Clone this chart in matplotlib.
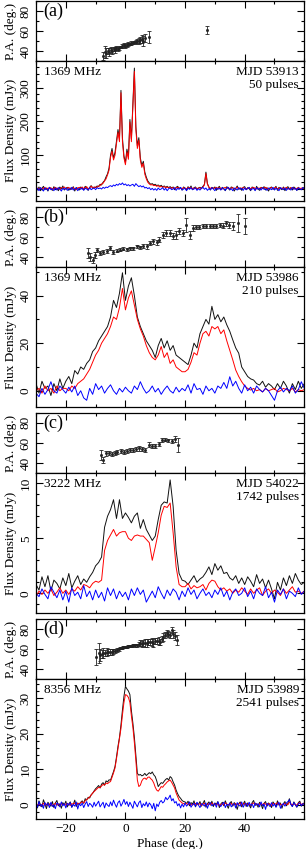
"""Polarisation profiles at four frequencies: P.A. swing above, I/L/V below."""

import numpy as np
import matplotlib

matplotlib.use("Agg")
import matplotlib.pyplot as plt
from matplotlib.ticker import MultipleLocator

plt.rcParams["font.family"] = ["Liberation Serif", "DejaVu Serif"]

# ---------------------------------------------------------------- data
# (a) 1369 MHz, MJD 53913, 0.5 deg bins from -30 to 60
phase_a = np.arange(-30.0, 60.25, 0.5)
total_a = [
    4, -3, 6, -5, 2, 8, -2, 3, -6, 5,
    1, -4, 7, -2, 3, -5, 6, 0, 9, -3,
    2, 5, -4, 3, -1, 7, -6, 4, 2, -3,
    6, 1, -2, 8, 3, -4, 5, 10, 2, 6,
    4, 9, 7, 14, 12, 20, 25, 36, 45, 62,
    100, 120, 92, 108, 142, 176, 150, 292, 150, 98,
    78, 118, 96, 206, 148, 252, 358, 185, 128, 152,
    92, 70, 82, 50, 35, 24, 18, 14, 16, 12,
    14, 10, 12, 8, 11, 6, 9, 5, 8, 4,
    7, 3, 6, -2, 5, 8, 2, 4, -3, 6,
    3, -4, 7, 1, 9, -2, 4, 6, -1, 3,
    5, 2, 8, 14, 50, 16, 6, -3, 5, 2,
    6, -4, 3, 8, -2, 5, 1, -5, 7, 2,
    -3, 6, 4, -6, 2, 9, -1, 3, -4, 5,
    7, -2, 4, 1, -5, 6, 3, -3, 8, 0,
    -4, 5, 2, 7, -3, 4, -6, 3, 6, -1,
    2, 8, -4, 5, 1, -2, 6, -5, 3, 7,
    -1, 4, -3, 6, 2, -4, 5, 1, -2, 4,
    3,
]
linear_a = [
    1, 3, -2, 4, 0, 2, 5, -1, 3, 1,
    4, -2, 2, 5, 0, 3, -1, 4, 2, 6,
    0, 3, 5, -1, 2, 4, 1, -2, 3, 5,
    2, 6, 1, 4, 7, 0, 3, 8, 5, 4,
    6, 5, 9, 10, 15, 17, 24, 30, 42, 56,
    94, 112, 86, 100, 135, 168, 140, 285, 140, 92,
    72, 110, 88, 198, 140, 245, 348, 175, 120, 145,
    85, 64, 76, 44, 30, 20, 15, 12, 13, 10,
    11, 8, 10, 6, 8, 5, 7, 4, 6, 3,
    5, 2, 4, 1, 3, 5, 2, 3, 0, 4,
    2, 1, 4, 3, 5, 0, 2, 4, 1, 3,
    3, 1, 6, 12, 46, 14, 5, 2, 4, 1,
    3, 5, 1, 4, 2, 0, 3, 5, 2, 4,
    1, 3, 4, 0, 2, 5, 1, 3, 2, 4,
    3, 0, 2, 4, 1, 3, 5, 2, 0, 3,
    2, 4, 1, 3, 5, 2, 0, 3, 4, 1,
    3, 5, 0, 2, 4, 1, 3, 2, 5, 0,
    2, 4, 1, 3, 0, 2, 4, 1, 3, 2,
    1,
]
circular_a = [
    -3, 2, -5, 4, -1, -6, 3, 0, -4, 5,
    -2, 1, -5, 3, -3, 4, 0, -6, 2, -1,
    3, -4, 1, -2, 5, -3, 0, 4, -5, 2,
    -1, 3, -4, 2, 0, -3, 4, -2, 1, 3,
    -2, 4, 1, 3, 0, 5, 2, 6, 4, 8,
    10, 7, 12, 9, 14, 11, 16, 13, 18, 12,
    15, 10, 13, 9, 12, 14, 8, 16, 11, 7,
    10, 6, 9, 3, 5, 1, 4, -2, 2, -3,
    1, -4, 3, -2, 0, 4, -3, 2, -5, 1,
    3, -2, 0, 4, -4, 2, -1, 5, -3, 0,
    2, -5, 3, -1, 4, -2, 0, 3, -4, 1,
    -3, 2, 5, -1, 3, -4, 1, -2, 4, 0,
    -5, 3, -1, 2, -3, 4, 0, -4, 2, 5,
    -2, 1, -5, 3, 0, -3, 4, -1, 2, -4,
    3, -2, 1, 5, -3, 0, 2, -5, 4, -1,
    2, -3, 4, -1, 0, -4, 3, 1, -2, 5,
    -3, 2, 0, -5, 4, 1, -2, 3, -4, 2,
    0, -3, 5, -1, 2, -4, 3, 0, -2, 4,
    1,
]
pa_phase_a = [-7.5, -7.0, -6.5, -6.0, -5.5, -5.0, -4.5, -4.0, -3.5, -3.0,
              -2.5, -2.0, -1.5, -1.0, -0.5, 0.0, 0.5, 1.0, 1.5, 2.0,
              2.5, 3.0, 3.5, 4.0, 4.5, 5.0, 5.5, 6.0, 6.5, 8.0, 27.5]
pa_a = [35, 39, 38, 40, 39, 41, 40, 42, 41, 43,
        42, 43, 44, 45, 46, 45, 46, 47, 47, 48,
        48, 49, 49, 50, 50, 51, 52, 50, 53, 54, 61]
pa_err_a = [4, 6, 5, 3, 4, 3, 3, 2, 3, 2,
            2, 2, 1, 2, 2, 2, 2, 2, 1, 2,
            1, 1, 2, 2, 3, 3, 4, 5, 4, 6, 4]

# (b) 1369 MHz, MJD 53986, 1 deg bins
phase_b = np.arange(-30.0, 60.5, 1.0)
total_b = [
    3, -1, 4, 1, 2, -2, 3, 0, 5, 1,
    4, 6, 3, 8.5, 7, 10, 9, 11.5, 13, 16.5,
    18, 21, 23, 25, 27, 31, 38, 35, 41, 49.6,
    38, 44, 47.5, 40, 31, 27, 24, 21, 19, 17,
    14, 19, 22, 18, 21, 17, 19, 15, 14, 13,
    12, 11, 15, 20, 18, 24, 27, 30, 28, 35.5,
    30, 32, 29, 31, 27.7, 25, 21.4, 18, 15.8, 10,
    8, 6, 5, 4.5, 3, 2.4, 4, 1.5, 3, 2,
    0.5, 3, 1, 4, 2, -1, 3, 0.5, 4, 1,
    3,
]
linear_b = [
    0, 1, -1, 2, 0, 1, -1, 2, 0, 1,
    1, 0, 2, 1, 3, 4, 5, 7, 9, 12,
    15, 17, 20, 22, 24, 27, 31, 30, 35, 43,
    34, 39, 42, 36, 30, 26, 23, 19, 16, 14,
    13, 15, 18.6, 14, 16, 11.5, 13, 10, 9, 8,
    8, 9, 12, 16, 15, 20, 24, 25, 23, 27,
    26, 27, 24, 25.6, 21, 17, 13, 8.7, 6, 3.8,
    2, 1, 0.3, 1, 0, 0.5, -0.5, 1, 0, 0.5,
    1, -0.5, 0, 1, 0.5, 0, 1, -0.5, 0.5, 0,
    0.5,
]
circular_b = [
    -1, -2.5, 1, -1.5, 0.5, 3.8, 0, -1, 2, 0.5,
    -1, 1.5, -0.5, 2, -2, 0, -3, -4, 1, -1.5,
    3, 0.5, 2, -1, 1, 2.5, 0, -1.5, 1, -0.5,
    1.5, 0, -1, 2, 0.5, 3.8, 1, -1, 0, 2,
    -0.5, 1, -1.5, 0.5, 2, 0, -1, 1.5, -0.5, 1,
    0, 2.5, -1, 3, 0.5, 1, -1.5, 2, 0, 1,
    -1, 2, 1, 3.5, 1, 5.9, 2, 4, 1, -1,
    2.5, 0, 1.5, -1, 2, 0.5, -0.5, 1, 0, -2,
    -4, 0, 1.5, -0.5, 1, 0, 2, -1, 0.5, 3.8,
    1,
]
pa_phase_b = [-12.7, -11.8, -11.0, -10.2, -9.4, -8.5, -7.4, -6.3, -5.2, -4.1,
              -2.9, -1.8, -0.7, 0.4, 1.6, 2.7, 3.8, 4.9, 6.0, 7.2,
              8.3, 9.4, 10.5, 11.4, 12.5, 13.7, 14.8, 15.9, 17.0, 18.1,
              19.3, 20.4, 21.5, 22.6, 23.7, 24.8, 26.0, 27.1, 28.2, 29.3,
              30.4, 31.6, 32.7, 33.8, 34.9, 36.0, 37.9, 40.1]
pa_b = [44, 40.7, 37.3, 42.3, 47.3, 44, 45.7, 46.7, 49, 45.7,
        46.7, 47.3, 48.3, 48, 49, 49, 50.7, 50, 51.3, 50.7,
        54, 55.7, 54.7, 57.3, 62.3, 64, 64, 60.7, 62.3, 65.7,
        64, 72.3, 62.3, 69, 70, 70, 70.7, 70.7, 71.3, 71.3,
        71.3, 72.3, 71.3, 74, 72.3, 70.7, 74, 70.7]
pa_err_b = [5, 4, 3, 3, 2, 2, 2, 2, 2, 2,
            1.5, 1.5, 1.5, 1.5, 1.5, 1.5, 1.5, 1.5, 2, 2,
            2, 2.5, 2.5, 2.5, 3, 3, 3, 3, 4, 3,
            3, 7, 4, 3, 2, 2, 2, 2, 2, 2,
            2, 2, 2.5, 2.5, 3, 4, 9, 8]

# (c) 3222 MHz, MJD 54022, 1 deg bins
phase_c = np.arange(-30.0, 60.5, 1.0)
total_c = [
    0.8, 0.3, 1.5, 0.6, 1.6, 0.2, 1.2, 0.9, 0.4, 1.4,
    0.7, 1.8, 0.5, 1.1, 1.6, 0.8, 1.3, 1.0, 1.5, 1.9,
    2.5, 2.8, 3.3, 6.0, 7.0, 7.6, 8.5, 6.8, 8.5, 6.8,
    7.3, 6.9, 6.4, 7.0, 7.3, 5.9, 6.7, 5.8, 5.3, 4.8,
    5.2, 6.7, 8.0, 8.3, 8.2, 10.3, 7.9, 3.9, 1.8, 1.2,
    1.1, 0.8, 1.2, 1.6, 1.0, 1.3, 1.5, 1.9, 2.4, 1.7,
    2.7, 2.1, 2.5, 1.8, 1.9, 1.4, 1.2, 1.6, 0.9, 1.4,
    0.8, 1.5, 1.1, 0.6, 1.7, 0.9, 1.3, 0.5, 1.2, 0.4,
    -0.5, 1.0, 0.3, 1.4, 0.7, 1.6, 0.9, 1.8, 1.2, 0.8,
    1.0,
]
linear_c = [
    -0.3, 0.2, -0.1, 0.3, 0.0, 0.4, -0.2, 0.1, 0.5, 0.0,
    0.3, -0.1, 0.4, 0.2, 0.6, 0.3, 0.8, 0.7, 0.5, 0.9,
    1.1, 1.0, 1.2, 3.9, 4.8, 5.3, 5.8, 5.2, 5.5, 5.6,
    5.6, 5.0, 4.8, 5.2, 5.3, 5.2, 5.2, 4.9, 4.6, 3.0,
    4.2, 5.5, 7.1, 7.9, 7.8, 8.2, 5.5, 2.4, 0.8, 0.6,
    0.6, 0.9, 0.4, 0.7, 0.5, 0.6, 0.8, 0.3, 0.9, 1.2,
    1.1, 0.6, 0.3, 0.5, 0.2, 0.4, 0.0, 0.3, 0.1, 0.5,
    0.2, -0.1, 0.4, 0.0, 0.3, 0.5, -0.2, 0.2, 0.4, 0.0,
    0.3, 0.1, -0.2, 0.4, 0.0, 0.3, 0.6, 0.1, 0.2, 0.0,
    0.2,
]
circular_c = [
    0.0, -0.3, 0.4, -0.1, -0.5, 0.6, 0.1, -0.4, 0.3, -0.6,
    0.2, -0.8, 0.5, -0.2, 0.1, -0.5, 0.7, -0.3, 0.2, -0.6,
    0.3, -0.4, 0.1, -0.7, 0.5, -0.2, 0.4, -0.5, 0.2, -0.3,
    0.1, -0.6, 0.4, -0.2, 0.5, -0.1, 0.3, -0.8, -0.3, 0.2,
    -0.4, 0.6, 0.0, -0.5, 0.3, -0.2, 0.4, 0.1, -0.6, 0.2,
    -0.3, 0.5, -0.1, 0.3, -0.5, 0.0, 0.4, -0.2, 0.1, -0.4,
    0.3, -0.1, 0.5, -0.3, 0.2, -0.6, 0.1, 0.4, -0.2, 0.0,
    0.5, -0.3, 0.2, -0.5, 0.4, 0.0, -0.2, 0.6, -0.4, 0.1,
    -0.8, 0.3, -0.1, 0.4, -0.5, 0.2, 0.0, -0.3, 0.5, -0.1,
    0.2,
]
pa_phase_c = [-8.3, -7.4, -6.5, -5.6, -4.6, -3.6, -2.7, -1.6, -0.4, 0.4,
              1.6, 2.5, 3.6, 4.7, 5.6, 6.7, 7.8, 8.8, 10.0, 11.1,
              12.2, 13.3, 14.4, 15.5, 16.6, 17.8]
pa_c = [48.3, 43.3, 50, 50, 49.3, 50, 50.7, 51.7, 50.7, 51.7,
        52.7, 53.3, 54, 55, 54, 52.7, 58.3, 57.3, 57.3, 59.3,
        62.7, 63.3, 62.7, 61.7, 64, 58.3]
pa_err_c = [5, 3, 2.5, 2, 2, 2, 2, 2, 2, 2,
            2, 2, 2, 2.5, 2, 2, 2.5, 2, 2, 2,
            2, 1.5, 1.5, 2, 3, 7]

# (d) 8356 MHz, MJD 53989, 0.5 deg bins
phase_d = np.arange(-30.0, 60.25, 0.5)
total_d = [
    0.5, -0.8, 1.2, 0.1, -0.5, 1.5, 0.3, -1.0, 0.8, 0.2,
    -0.3, 1.0, -0.7, 0.6, 1.3, -0.2, 0.4, -0.9, 0.7, 0.0,
    1.1, -0.5, 0.3, 0.9, -0.6, 0.2, 1.4, -0.4, 0.6, 0.1,
    0.8, 1.2, 0.5, 1.8, 1.4, 2.2, 2.0, 2.9, 3.3, 4.0,
    4.6, 5.0, 5.5, 4.8, 5.9, 6.3, 5.6, 6.8, 6.5, 7.1,
    7.0, 8.2, 9.4, 10.8, 13.5, 16.5, 19.0, 22.5, 26.7, 30.5,
    33.3, 32.6, 32.0, 31.0, 26.5, 23.0, 19.0, 14.0, 8.9, 8.4,
    8.6, 8.2, 8.4, 8.9, 8.3, 8.7, 9.1, 8.8, 9.3, 8.5,
    8.0, 6.8, 5.2, 5.8, 6.3, 6.1, 6.7, 7.2, 7.5, 7.0,
    8.0, 7.6, 6.5, 5.6, 4.2, 3.2, 2.4, 1.9, 1.3, 1.0,
    0.9, 0.4, 1.1, -0.2, 0.7, 0.3, 1.2, -0.5, 0.6, 0.2,
    1.0, -0.3, 0.5, 1.3, -0.6, 0.4, 0.9, 0.0, 1.1, -0.4,
    0.6, 0.2, 1.0, -0.7, 0.3, 0.8, -0.2, 1.2, 0.1, -0.9,
    0.5, 1.0, -0.3, 0.7, 0.2, -1.2, 0.4, 0.9, -0.5, 0.3,
    1.1, -0.4, 0.6, 0.0, -0.8, 0.7, 1.3, -0.1, 0.4, -0.6,
    0.8, 0.2, -1.0, 0.5, 1.0, -0.3, 0.6, 0.1, -0.7, 0.9,
    0.3, -0.5, 1.2, 0.0, 0.6, -0.9, 0.4, 1.0, -0.2, 0.5,
    1.8, 0.2, -0.4, 0.9, 0.1, -0.6, 0.7, 1.1, -0.3, 0.4,
    0.6,
]
linear_d = [
    0.2, 0.0, 0.4, -0.2, 0.1, 0.5, -0.1, 0.3, 0.0, 0.2,
    0.4, -0.1, 0.2, 0.5, 0.0, 0.3, -0.2, 0.4, 0.1, 0.3,
    0.0, 0.5, 0.2, -0.1, 0.4, 0.3, 0.6, 0.1, 0.5, 0.4,
    0.7, 0.9, 0.6, 1.2, 1.6, 1.9, 2.3, 2.8, 3.4, 3.8,
    4.2, 4.6, 5.0, 4.9, 5.4, 5.8, 5.6, 6.2, 6.0, 6.4,
    6.6, 7.8, 9.0, 10.4, 13.0, 15.8, 18.4, 21.5, 25.3, 28.8,
    31.0, 30.8, 30.2, 28.8, 25.0, 21.8, 17.5, 12.5, 7.0, 5.2,
    5.6, 6.8, 7.4, 7.6, 7.2, 7.8, 7.9, 7.4, 7.0, 6.2,
    5.0, 4.2, 3.9, 4.5, 5.2, 5.0, 5.6, 6.0, 6.5, 6.8,
    7.0, 6.4, 5.6, 4.8, 3.4, 2.4, 1.4, 1.0, 0.6, 0.4,
    0.3, 0.5, 0.1, 0.4, 0.2, 0.0, 0.3, 0.5, 0.1, 0.2,
    0.4, -0.1, 0.3, 0.5, 0.0, 0.2, 0.4, 0.1, 0.6, 0.2,
    0.3, 0.1, 0.5, -0.2, 0.2, 0.4, 0.0, 0.6, 0.3, 0.1,
    0.2, 0.5, 0.0, 0.3, 0.4, 0.1, 0.2, 0.6, 0.0, 0.3,
    0.5, 0.1, 0.3, 0.2, -0.1, 0.4, 0.6, 0.2, 0.3, 0.0,
    0.4, 0.2, 0.1, 0.5, 0.3, 0.0, 0.4, 0.2, -0.1, 0.5,
    0.2, 0.4, 0.6, 0.1, 0.3, 0.0, 0.2, 0.5, 0.3, 0.1,
    0.9, 0.3, 0.1, 0.4, 0.2, 0.0, 0.5, 0.7, 0.2, 0.3,
    0.4,
]
circular_d = [
    0.4, -0.6, 1.0, -0.3, 0.2, -0.9, 0.7, -0.1, 0.5, -0.7,
    0.8, -0.4, 0.1, -1.0, 0.6, 0.3, -0.5, 0.9, -0.2, 0.4,
    -0.8, 0.5, 0.0, 0.7, -0.6, 0.2, -0.3, 0.9, -1.1, 0.4,
    -0.2, 0.6, -0.7, 0.3, 1.0, -0.4, 0.5, 0.1, -0.6, 0.8,
    -0.3, 0.4, 1.1, -0.5, 0.2, 0.8, -0.8, 0.6, 0.0, -0.4,
    0.9, -0.2, 1.4, 0.3, -0.6, 0.7, 1.2, -0.3, 0.5, 1.6,
    0.2, 1.0, -0.4, 0.8, 0.0, -0.9, 1.1, 0.3, -0.5, 0.7,
    1.2, -0.7, 0.4, -0.2, 0.9, -0.5, 0.6, 0.1, -1.0, 0.5,
    -1.6, 0.3, -0.4, 0.8, 1.3, 0.6, 1.0, 2.2, 1.5, 2.0,
    2.8, 1.2, 1.8, 0.6, 1.0, -0.2, 0.4, -0.8, 0.3, -0.5,
    0.6, -0.3, 0.2, 0.9, -0.6, 0.1, 0.5, -0.4, 0.8, 0.0,
    -0.7, 0.4, 0.2, -0.3, 0.6, -0.9, 0.3, 0.7, -0.2, 0.1,
    0.5, -0.6, 0.9, 0.0, -0.4, 0.3, 0.8, -0.7, 0.2, -0.1,
    0.6, -0.5, 0.1, 0.4, -0.8, 0.7, 0.0, -0.3, 0.9, -0.6,
    0.2, 0.5, -0.4, 0.8, -0.1, 0.3, -0.7, 0.6, 0.0, 0.4,
    -0.5, 0.9, -0.2, 0.3, -1.2, 0.5, 0.1, -0.4, 0.7, -0.3,
    0.4, -0.6, 0.2, 0.8, -0.9, 0.0, 0.5, -0.3, 0.6, 1.0,
    1.5, 0.2, -0.4, 0.7, 0.1, -0.5, 0.3, 0.6, -0.2, 0.4,
    0.1,
]
pa_phase_d = [-9.8, -9.0, -8.5, -7.9, -7.4, -6.8, -6.3, -5.7, -5.2, -4.6,
              -4.1, -3.5, -2.9, -2.3, -1.8, -1.2, -0.7, 0.0, 0.4, 1.0,
              1.6, 2.2, 2.7, 3.3, 3.8, 4.4, 4.9, 5.5, 6.0, 6.6,
              7.2, 7.7, 8.3, 8.8, 9.4, 10.0, 10.5, 11.1, 11.6, 12.2,
              12.7, 13.3, 13.9, 14.4, 15.0, 15.5, 16.1, 16.6, 17.2]
pa_d = [52.7, 56, 54.3, 55, 56.7, 56, 57.7, 57, 57, 57.5,
        58, 58.5, 59.3, 60, 61, 61.5, 62, 62.3, 62.7, 63,
        63.3, 63.5, 64, 64, 64.3, 65, 66, 65.5, 66.7, 66,
        66, 67, 67.7, 67, 66.7, 68, 68.7, 68, 67.7, 70,
        72.7, 74, 76, 75, 74.3, 79.3, 75.3, 73, 69.3]
pa_err_d = [8, 10, 6, 4, 5, 3, 4, 3, 3, 3,
            2.5, 2, 2, 1.5, 1, 1, 1, 1, 1, 1,
            1, 1, 1, 1.5, 1.5, 2, 3, 3, 3, 4,
            4, 3, 3, 4, 4, 3, 3, 4, 3, 3,
            4, 3, 3, 3, 3, 3, 4, 4, 5]

phase_ticks = [-20, 0, 20, 40]

panels = [
    dict(tag="(a)", freq="1369 MHz", mjd="MJD 53913", npulse="50 pulses",
         phase=phase_a, total=total_a, linear=linear_a, circular=circular_a,
         pa_phase=pa_phase_a, pa=pa_a, pa_err=pa_err_a,
         ylim=(-34, 379), major=100, minor=20, pa_box=(1.0, 61.0), box=(61.0, 200.5)),
    dict(tag="(b)", freq="1369 MHz", mjd="MJD 53986", npulse="210 pulses",
         phase=phase_b, total=total_b, linear=linear_b, circular=circular_b,
         pa_phase=pa_phase_b, pa=pa_b, pa_err=pa_err_b,
         ylim=(-6.7, 51.9), major=20, minor=10, pa_box=(207.0, 267.3), box=(267.3, 406.7)),
    dict(tag="(c)", freq="3222 MHz", mjd="MJD 54022", npulse="1742 pulses",
         phase=phase_c, total=total_c, linear=linear_c, circular=circular_c,
         pa_phase=pa_phase_c, pa=pa_c, pa_err=pa_err_c,
         ylim=(-1.76, 10.9), major=5, minor=1, pa_box=(412.7, 473.3), box=(473.3, 612.7)),
    dict(tag="(d)", freq="8356 MHz", mjd="MJD 53989", npulse="2541 pulses",
         phase=phase_d, total=total_d, linear=linear_d, circular=circular_d,
         pa_phase=pa_phase_d, pa=pa_d, pa_err=pa_err_d,
         ylim=(-3.9, 35.3), major=10, minor=2, pa_box=(619.3, 679.3), box=(679.3, 819.0)),
]

# ---------------------------------------------------------------- layout
W, H = 307, 849
LEFT, RIGHT = 36.0, 304.3
FS = 9.5


def add_box(fig, top, bottom):
    return fig.add_axes([LEFT / W, 1 - bottom / H, (RIGHT - LEFT) / W, (bottom - top) / H])


def style(ax, major, minor, xlabels):
    ax.set_xlim(-30, 60)
    ax.set_xticks(phase_ticks)
    ax.xaxis.set_minor_locator(MultipleLocator(10))
    ax.yaxis.set_major_locator(MultipleLocator(major))
    ax.yaxis.set_minor_locator(MultipleLocator(minor))
    ax.tick_params(which="both", direction="in", top=True, right=True,
                   width=0.8, labelsize=FS, pad=3)
    ax.tick_params(which="major", length=5)
    ax.tick_params(which="minor", length=2.5)
    ax.tick_params(axis="x", labelbottom=xlabels)
    for lab in ax.get_yticklabels():
        lab.set_rotation(90)
        lab.set_va("center")
    for sp in ax.spines.values():
        sp.set_linewidth(0.9)


fig = plt.figure(figsize=(W / 100, H / 100), dpi=100)

for i, p in enumerate(panels):
    last = i == len(panels) - 1

    ax_pa = add_box(fig, *p["pa_box"])
    ax_pa.errorbar(p["pa_phase"], p["pa"], yerr=p["pa_err"], fmt="s", ms=1.0,
                   color="#222222", ecolor="#222222", elinewidth=0.6, capsize=1.2,
                   capthick=0.6)
    ax_pa.set_ylim(30, 90)
    style(ax_pa, 20, 10, False)
    ax_pa.set_ylabel("P.A. (deg.)", fontsize=FS, labelpad=2)
    ax_pa.text(7 / (RIGHT - LEFT), 0.97, p["tag"], transform=ax_pa.transAxes,
               fontsize=13, ha="left", va="top")

    ax = add_box(fig, *p["box"])
    ax.plot(p["phase"], p["total"], color="#111111", lw=0.7)
    ax.plot(p["phase"], p["linear"], color="#ff0000", lw=0.7)
    ax.plot(p["phase"], p["circular"], color="#0000ff", lw=0.7)
    ax.set_ylim(*p["ylim"])
    style(ax, p["major"], p["minor"], last)
    ax.set_ylabel("Flux Density (mJy)", fontsize=FS, labelpad=2)
    ax.text(0.03, 0.92, p["freq"], transform=ax.transAxes, fontsize=FS,
            ha="left", va="center")
    ax.text(0.98, 0.92, p["mjd"], transform=ax.transAxes, fontsize=FS,
            ha="right", va="center")
    ax.text(0.98, 0.83, p["npulse"], transform=ax.transAxes, fontsize=FS,
            ha="right", va="center")
    if last:
        ax.set_xlabel("Phase (deg.)", fontsize=FS, labelpad=2)

fig.savefig("out.png", dpi=100)
